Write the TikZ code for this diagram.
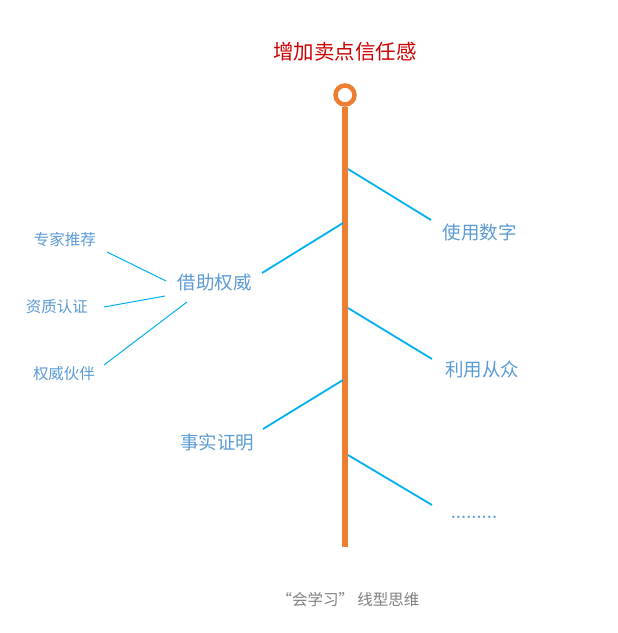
\documentclass[tikz,border=0pt]{standalone}
\usepackage{fontspec}
\newfontfamily\cjk{Noto Sans CJK SC}
\usetikzlibrary{positioning}

\definecolor{spineorange}{HTML}{ED7D31}
\definecolor{branchblue}{HTML}{00B0F0}
\definecolor{labelblue}{HTML}{5B9BD5}
\definecolor{titlered}{HTML}{CC0000}
\definecolor{captiongray}{HTML}{7F7F7F}

\begin{document}
\begin{tikzpicture}[x=1pt, y=-1pt,
    mainlabel/.style={text=labelblue, inner sep=0, font=\cjk\fontsize{18.5}{20}\selectfont},
    sublabel/.style={text=labelblue, inner sep=0, font=\cjk\fontsize{15.5}{17}\selectfont},
    branch/.style={branchblue, line width=1.8pt},
    twig/.style={branchblue, line width=1pt}]

\useasboundingbox (0,0) rectangle (618,633);

\node[text=titlered,
    font=\cjk\fontsize{20.5}{22}\selectfont,
    inner sep=0] (title) at (345,52) {增加卖点信任感};

% Spine
\node[draw=spineorange,
    circle,
    fill=white,
    line width=4.5pt,
    minimum size=19pt,
    inner sep=0] (ring) at (345,95) {};
\coordinate (bottom) at (345,547);
\draw[spineorange, line width=6.5pt] (ring.south) -- (bottom);

% Points on the spine
\coordinate (s1) at (348,169);
\coordinate (s2) at (343,223);
\coordinate (s3) at (348,308);
\coordinate (s4) at (343,380);
\coordinate (s5) at (348,455);

% Labels
\node[mainlabel] (numbers) at (479.5,232) {使用数字};
\node[mainlabel] (authority) at (214.5,283) {借助权威};
\node[mainlabel] (crowd) at (482,369) {利用从众};
\node[mainlabel] (facts) at (217,442) {事实证明};
\node[text=labelblue,
    font=\bfseries\fontsize{16.5}{18}\selectfont,
    inner sep=0,
    anchor=base] (more) at (474,518) {.........};

\node[sublabel] (expert) at (65,240) {专家推荐};
\node[sublabel] (licence) at (57,307) {资质认证};
\node[sublabel] (partner) at (64,374) {权威伙伴};

\node[text=captiongray,
    font=\cjk\fontsize{15.5}{17}\selectfont,
    inner sep=0] (caption) at (348,600) {“会学习” 线型思维};

% Free ends next to the labels
\coordinate (e1) at (431,220);
\coordinate (e2) at (262,273);
\coordinate (e3) at (432,359);
\coordinate (e4) at (263,429);
\coordinate (e5) at (432,505);

\coordinate (a1) at (166,281);
\coordinate (a2) at (165,296);
\coordinate (a3) at (187,302);
\coordinate (t1) at (107,252);
\coordinate (t2) at (104,307);
\coordinate (t3) at (104,365);

% Branches
\draw[branch] (s1) -- (e1);
\draw[branch] (s2) -- (e2);
\draw[branch] (s3) -- (e3);
\draw[branch] (s4) -- (e4);
\draw[branch] (s5) -- (e5);

\draw[twig] (a1) -- (t1);
\draw[twig] (a2) -- (t2);
\draw[twig] (a3) -- (t3);

\end{tikzpicture}
\end{document}
